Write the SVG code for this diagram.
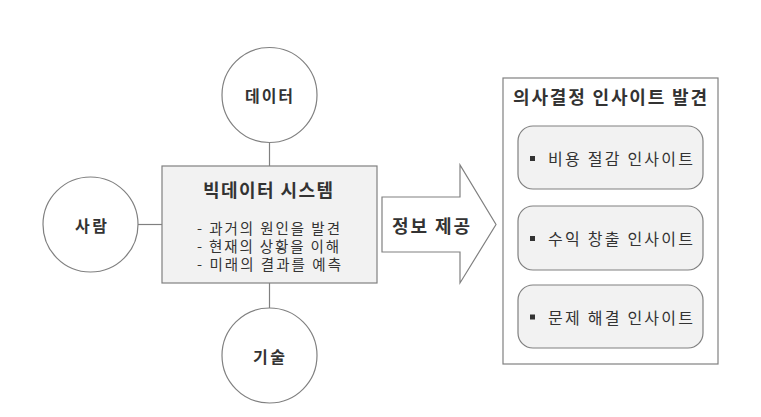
<svg xmlns="http://www.w3.org/2000/svg" width="761" height="417" viewBox="0 0 761 417">
<style>
text{font-family:"Noto Sans CJK KR","Noto Sans",sans-serif;fill:#333;dominant-baseline:central}
.b{font-weight:bold}
.c{fill:#fff;stroke:#808080;stroke-width:1.2}
.g{fill:#f2f2f2;stroke:#808080;stroke-width:1.2}
.ln{stroke:#808080;stroke-width:1.2;fill:none}
.body{font-size:14.5px}
.item{font-size:16px}
</style>
<rect width="761" height="417" fill="#fff"/>
<g id="connectors">
<line class="ln" x1="269.5" y1="142" x2="269.5" y2="166"/>
<line class="ln" x1="269.5" y1="283" x2="269.5" y2="308"/>
<line class="ln" x1="138" y1="224.5" x2="162" y2="224.5"/>
</g>
<g id="data"><circle class="c" cx="269.5" cy="95" r="47.5"/><text class="b" x="245" y="95" font-size="16" textLength="48" lengthAdjust="spacing">데이터</text></g>
<g id="people"><circle class="c" cx="90.5" cy="224.5" r="47.5"/><text class="b" x="75" y="224.5" font-size="16" textLength="32" lengthAdjust="spacing">사람</text></g>
<g id="tech"><circle class="c" cx="269.5" cy="355.5" r="47.5"/><text class="b" x="253" y="355.5" font-size="16" textLength="32" lengthAdjust="spacing">기술</text></g>
<g id="system">
<rect class="g" x="162" y="166" width="215" height="117"/>
<text class="b" x="203" y="188.5" font-size="18" textLength="130" lengthAdjust="spacing">빅데이터 시스템</text>
<text class="body" x="197" y="227" textLength="143" lengthAdjust="spacing">- 과거의 원인을 발견</text>
<text class="body" x="197" y="245" textLength="142" lengthAdjust="spacing">- 현재의 상황을 이해</text>
<text class="body" x="197" y="263" textLength="144" lengthAdjust="spacing">- 미래의 결과를 예측</text>
</g>
<g id="arrow">
<polygon class="c" points="382,197 460,197 460,165 496,224.5 460,283 460,252 382,252"/>
<text class="b" x="392" y="224.5" font-size="18" textLength="78" lengthAdjust="spacing">정보 제공</text>
</g>
<g id="insights">
<rect x="503" y="78" width="215" height="286" fill="#fff" stroke="#808080" stroke-width="1.2"/>
<text class="b" x="513" y="96" font-size="18" textLength="194" lengthAdjust="spacing">의사결정 인사이트 발견</text>
</g>
<g id="cost">
<rect class="g" x="518" y="126" width="185" height="63" rx="15"/>
<rect x="530" y="156" width="5" height="5" fill="#333"/>
<text class="item" x="548" y="158" textLength="145" lengthAdjust="spacing">비용 절감 인사이트</text>
</g>
<g id="revenue">
<rect class="g" x="518" y="206" width="185" height="64" rx="15"/>
<rect x="530" y="236" width="5" height="5" fill="#333"/>
<text class="item" x="548" y="238" textLength="145" lengthAdjust="spacing">수익 창출 인사이트</text>
</g>
<g id="problem">
<rect class="g" x="518" y="285" width="185" height="63" rx="15"/>
<rect x="530" y="314.5" width="5" height="5" fill="#333"/>
<text class="item" x="548" y="316.5" textLength="145" lengthAdjust="spacing">문제 해결 인사이트</text>
</g>
</svg>
